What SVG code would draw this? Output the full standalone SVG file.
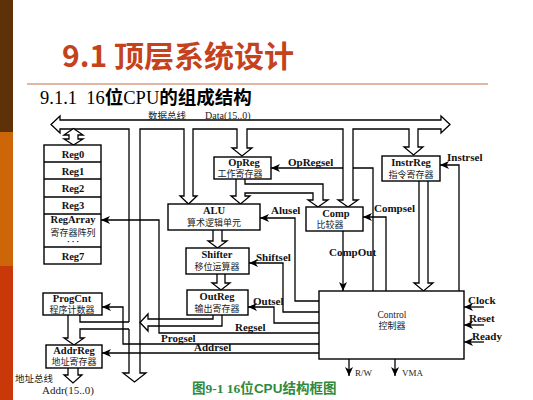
<svg xmlns="http://www.w3.org/2000/svg" width="533" height="400" viewBox="0 0 533 400">
<style>
.box{fill:#fff;stroke:#000;stroke-width:1.4}
.ln{fill:none;stroke:#000;stroke-width:1.3}
.ar{fill:none;stroke:#000;stroke-width:1.3;marker-end:url(#ah)}
.hb{fill:#fff;stroke:#000;stroke-width:1.3;stroke-linejoin:miter}
.t{font-family:"Liberation Serif","Noto Sans CJK SC",serif;font-size:11px;font-weight:bold;fill:#111}
.b{font-family:"Liberation Serif","Noto Sans CJK SC",serif;font-size:10.5px;font-weight:bold;fill:#111}
.c{font-family:"Noto Sans CJK SC",sans-serif;font-size:9px;fill:#222}
.s{font-family:"Liberation Serif","Noto Sans CJK SC",serif;font-size:10px;fill:#222}
.m{text-anchor:middle}
</style>
<defs>
<marker id="ah" markerWidth="9" markerHeight="8" refX="9" refY="4" orient="auto" markerUnits="userSpaceOnUse"><path d="M0,0 L9,4 L0,8 L2.5,4 z" fill="#000"/></marker>
</defs>
<rect width="533" height="400" fill="#fff"/>
<g id="sidebar">
<rect x="0" y="0" width="13" height="132" fill="#5e3108"/>
<rect x="0" y="132" width="13" height="134" fill="#cc6608"/>
<rect x="0" y="266" width="13" height="134" fill="#c83808"/>
</g>
<g id="title">
<text x="62" y="67" font-family="'Noto Sans CJK SC',sans-serif" font-size="30" font-weight="bold" fill="#c4421c">9.1 顶层系统设计</text>
<line x1="27" y1="84" x2="488" y2="84" stroke="#c07048" stroke-width="1.2"/>
<text x="40" y="104" font-family="'Liberation Serif','Noto Sans CJK SC',serif" font-size="18.5" fill="#000" xml:space="preserve">9.1.1  16<tspan font-family="'Noto Sans CJK SC',sans-serif" font-weight="bold">位</tspan>CPU<tspan font-family="'Noto Sans CJK SC',sans-serif" font-weight="bold">的组成结构</tspan></text>
</g>
<g id="connectors">
<path class="ln" d="M129,322 V129 H60 V133 L51,124.5 L60,116 V120 H441 V116 L450,124.5 L441,133 V129 H418 V147 H423 L413.5,155 L404,147 H409 V129 H353 V200 H358 L348,207 L338,200 H343 V129 H247 V148 H252 L242,156 L232,148 H237 V129 H193 V196 H197 L188.5,204 L180,196 H184 V129 H140 V373 H146 L134.5,382 L123,373 H129 V329"/>
<path class="hb" d="M64,135 L73.5,128.5 L83,135 L78,135 L78,139 L83,139 L73.5,145 L64,139 L69,139 L69,135 Z"/>
<path class="ln" d="M129,322 H80 V315"/>
<path class="ln" d="M129,329 H80 V338 H84 L74,345 L64,338 H68 V315"/>
<path class="ln" d="M236,179 V196 H231 L240.5,204 L250,196 H245 V193 H313 V200 H308 L318,207 L328,200 H323 V184 H245 V179"/>
<path class="ln" d="M213,230 V241 H208 L217.5,248 L227,241 H222 V230"/>
<path class="ln" d="M217,274 V283 H212 L221,290 L230,283 H225 V274"/>
<path class="ln" d="M213,315 V319 H148 V314 L140,322.5 L148,331 V326 H222 V315"/>
<path class="ln" d="M419,181 V283 H414 L423.5,291 L433,283 H428 V181"/>
<path class="ln" d="M68,368 V375 H64 L73,383 L82,375 H78 V368"/>
<path class="ln" d="M373,291 V168 H353"/>
<path class="ar" d="M343,168 H271"/>
<path class="ar" d="M386,291 V217 H363"/>
<path class="ar" d="M459,291 V165 H440"/>
<path class="ar" d="M343,231 V291"/>
<path class="ar" d="M319,301 H295 V218 H260"/>
<path class="ar" d="M319,312 H283 V263 H249"/>
<path class="ar" d="M319,323 H274 V307 H248"/>
<path class="ar" d="M319,333 H159 V220 H101"/>
<path class="ar" d="M319,344 H123 V307 H102"/>
<path class="ar" d="M319,353 H102"/>
<path class="ar" d="M484,307 H464"/>
<path class="ar" d="M484,325 H464"/>
<path class="ar" d="M484,342 H464"/>
<path class="ar" d="M349,359 V376"/>
<path class="ar" d="M395,359 V376"/>
</g>
<g id="labels">
<text class="c" x="148" y="118.5" style="font-size:9.5px">数据总线</text>
<text class="s" x="205" y="118.5">Data(15..0)</text>
<text class="t" x="288" y="166">OpRegsel</text>
<text class="t" x="271" y="214">Alusel</text>
<text class="t" x="256" y="261">Shiftsel</text>
<text class="t" x="253" y="305">Outsel</text>
<text class="t" x="235" y="331">Regsel</text>
<text class="t" x="161" y="342">Progsel</text>
<text class="t" x="194" y="351">Addrsel</text>
<text class="t" x="374" y="212">Compsel</text>
<text class="t" x="329" y="256">CompOut</text>
<text class="t" x="447" y="161">Instrsel</text>
<text class="t" x="468" y="304">Clock</text>
<text class="t" x="469" y="322">Reset</text>
<text class="t" x="472" y="340">Ready</text>
<text class="s" x="355" y="376" style="font-size:9px">R/W</text>
<text class="s" x="402" y="376" style="font-size:9px">VMA</text>
<text class="c" x="15" y="382" style="font-size:9.5px">地址总线</text>
<text class="s" x="42" y="394" style="font-size:11px">Addr(15..0)</text>
</g>
<g id="RegArray">
<rect class="box" x="44" y="145" width="57" height="119"/>
<path class="ln" d="M44,162 H101 M44,179 H101 M44,197 H101 M44,214 H101 M44,247 H101"/>
<text class="b m" x="73" y="157.5">Reg0</text>
<text class="b m" x="73" y="174.5">Reg1</text>
<text class="b m" x="73" y="192">Reg2</text>
<text class="b m" x="73" y="209">Reg3</text>
<text class="b m" x="73" y="223">RegArray</text>
<text class="c m" x="73" y="235.5">寄存器阵列</text>
<text class="b m" x="73" y="244" style="font-size:8px">· · ·</text>
<text class="b m" x="73" y="259.5">Reg7</text>
</g>
<g id="ProgCnt">
<rect class="box" x="43" y="293" width="59" height="22"/>
<text class="b m" x="72" y="302">ProgCnt</text>
<text class="c m" x="72" y="312.5">程序计数器</text>
</g>
<g id="AddrReg">
<rect class="box" x="46" y="345" width="56" height="23"/>
<text class="b m" x="74" y="354">AddrReg</text>
<text class="c m" x="74" y="365">地址寄存器</text>
</g>
<g id="OpReg">
<rect class="box" x="214" y="157" width="57" height="22"/>
<text class="b m" x="244" y="166">OpReg</text>
<text class="c m" x="240" y="176.5">工作寄存器</text>
</g>
<g id="ALU">
<rect class="box" x="168" y="204" width="92" height="26"/>
<text class="b m" x="214" y="214">ALU</text>
<text class="c m" x="214" y="226">算术逻辑单元</text>
</g>
<g id="Shifter">
<rect class="box" x="186" y="248" width="63" height="26"/>
<text class="b m" x="217" y="258">Shifter</text>
<text class="c m" x="217" y="270">移位运算器</text>
</g>
<g id="OutReg">
<rect class="box" x="187" y="290" width="61" height="25"/>
<text class="b m" x="217" y="300">OutReg</text>
<text class="c m" x="217" y="311.5">输出寄存器</text>
</g>
<g id="Comp">
<rect class="box" x="306" y="207" width="57" height="24"/>
<text class="b m" x="336" y="217">Comp</text>
<text class="c m" x="330" y="228">比较器</text>
</g>
<g id="InstrReg">
<rect class="box" x="382" y="156" width="58" height="25"/>
<text class="b m" x="411" y="166">InstrReg</text>
<text class="c m" x="411" y="177.5">指令寄存器</text>
</g>
<g id="Control">
<rect class="box" x="319" y="291" width="145" height="68"/>
<text class="s m" x="392" y="318" style="font-size:9.5px">Control</text>
<text class="c m" x="392" y="329">控制器</text>
</g>
<g id="caption">
<text x="192" y="393" font-family="'Liberation Serif','Noto Sans CJK SC',serif" font-size="13.5" font-weight="bold" fill="#2f8a3c">图9-1  16位<tspan font-family="'Liberation Sans','Noto Sans CJK SC',sans-serif">CPU结构框图</tspan></text>
</g>
</svg>
